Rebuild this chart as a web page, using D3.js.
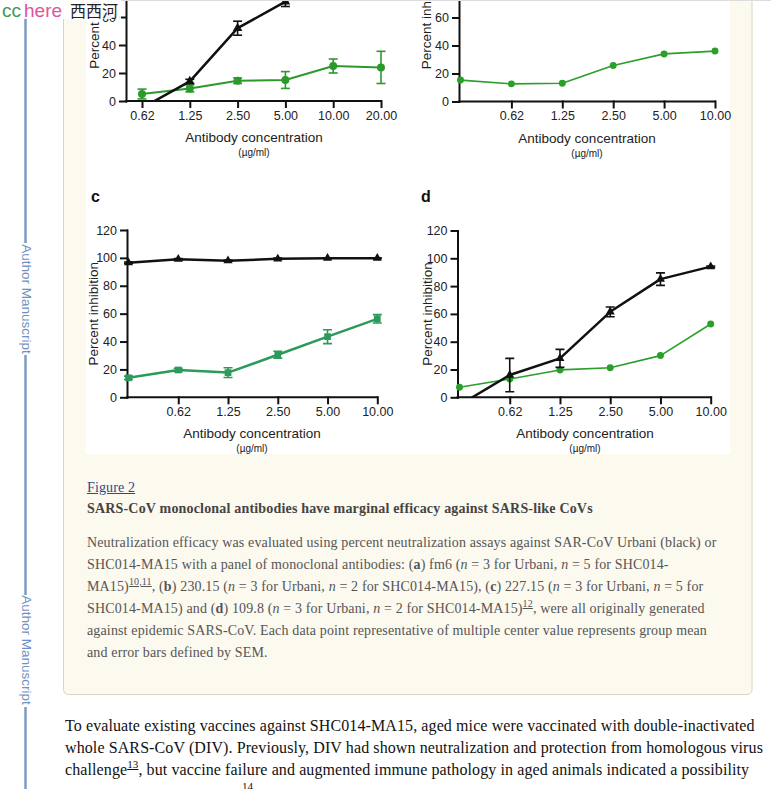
<!DOCTYPE html>
<html><head><meta charset="utf-8">
<script src="https://cdn.jsdelivr.net/npm/d3@7"></script>
<style>
html,body{margin:0;padding:0;background:#fff;overflow:hidden;width:771px;height:789px}
#wrap{position:relative;width:771px;height:789px}
svg{position:absolute;left:0;top:0;display:block}
.txt{position:absolute;white-space:nowrap;font-family:"Liberation Serif","Times New Roman",serif}
.cap{font-size:14px;line-height:22px;color:#555;letter-spacing:0.14px}
.body{font-size:16px;line-height:22px;color:#111;letter-spacing:0.1px}
.sup{font-size:10px;position:relative;top:-6px;line-height:0;text-decoration:underline}
.body .sup{font-size:11px;top:-7px}
</style></head><body>
<div id="wrap">
<svg id="chart" width="771" height="789"></svg>
<div class="txt cap" style="left:87px;top:477px;color:#2b4c8c;text-decoration:underline">Figure 2</div>
<div class="txt cap" style="left:87px;top:498px;color:#444;font-weight:bold;letter-spacing:0.18px">SARS-CoV monoclonal antibodies have marginal efficacy against SARS-like CoVs</div>
<div class="txt cap" style="left:87px;top:532px">
Neutralization efficacy was evaluated using percent neutralization assays against SAR-CoV Urbani (black) or<br>
SHC014-MA15 with a panel of monoclonal antibodies: (<b>a</b>) fm6 (<i>n</i> = 3 for Urbani, <i>n</i> = 5 for SHC014-<br>
MA15)<span class="sup">10,11</span>, (<b>b</b>) 230.15 (<i>n</i> = 3 for Urbani, <i>n</i> = 2 for SHC014-MA15), (<b>c</b>) 227.15 (<i>n</i> = 3 for Urbani, <i>n</i> = 5 for<br>
SHC014-MA15) and (<b>d</b>) 109.8 (<i>n</i> = 3 for Urbani, <i>n</i> = 2 for SHC014-MA15)<span class="sup">12</span>, were all originally generated<br>
against epidemic SARS-CoV. Each data point representative of multiple center value represents group mean<br>
and error bars defined by SEM.
</div>
<div class="txt body" style="left:65px;top:715px">
To evaluate existing vaccines against SHC014-MA15, aged mice were vaccinated with double-inactivated<br>
whole SARS-CoV (DIV). Previously, DIV had shown neutralization and protection from homologous virus<br>
challenge<span class="sup">13</span>, but vaccine failure and augmented immune pathology in aged animals indicated a possibility<br>
<span style="display:inline-block;width:177px"></span><span class="sup">14</span>
</div>
</div>
<script>
// ---------------- data ----------------
const concA = ["0.62","1.25","2.50","5.00","10.00","20.00"];
const concBCD = ["0.31","0.62","1.25","2.50","5.00","10.00"];
const tickLabelsA = ["0.62","1.25","2.50","5.00","10.00","20.00"];
const tickLabelsBCD = ["","0.62","1.25","2.50","5.00","10.00"];
const yTicks = [0,20,40,60,80,100,120];

const urbaniA = [-5, 14, 52, 71, 92, 97];
const urbaniAErr = [0, 1.5, 5, 3.5, 3, 2];
const shcA = [5, 9, 14.5, 15, 25, 24];
const shcAErr = [3.5, 2.5, 2, 6, 5, 11.5];

const urbaniB = [96, 98, 99, 100, 100, 100];
const shcB = [15.3, 12.6, 13, 25.7, 34, 36];

const urbaniC = [96.5, 99, 98, 99.3, 99.8, 99.8];
const urbaniCErr = [0.5, 0.5, 0.5, 0.5, 0.3, 0.3];
const shcC = [14, 19.6, 17.7, 30.5, 43.5, 56.3];
const shcCErr = [1.2, 1.2, 3.5, 2.5, 5, 3];

const urbaniD = [-5.5, 16, 28, 61.5, 85, 94];
const urbaniDErr = [0, 12, 6.5, 3.5, 4.5, 0.5];
const shcD = [7.2, 13.2, 19.7, 21.3, 30, 52.7];

// ---------------- page chrome ----------------
const svg = d3.select('#chart');
const defs = svg.append('defs');
const SANS = '"Liberation Sans", Arial, Helvetica, sans-serif';

// left blue rule with labels
const blue = '#7d9cc4';
[[0,243],[355,595],[707,789]].forEach(s=>{
  svg.append('line').attr('x1',25.5).attr('x2',25.5).attr('y1',s[0]).attr('y2',s[1])
    .attr('stroke',blue).attr('stroke-width',2.5);
});
[299,650].forEach(cy=>{
  svg.append('text').attr('transform',`translate(27,${cy}) rotate(90)`)
    .attr('text-anchor','middle').attr('dy','0.35em')
    .attr('font-family',SANS).attr('font-size',13.5).attr('fill','#6f91c2')
    .text('Author Manuscript');
});

// cream figure panel
svg.append('rect').attr('x',63.5).attr('y',-10).attr('width',688.5).attr('height',704.5)
  .attr('rx',5).attr('fill','#fcf9ef').attr('stroke','#ddd3c2').attr('stroke-width',1);
// white figure image
svg.append('rect').attr('x',86).attr('y',-10).attr('width',644).attr('height',464).attr('fill','#fff');

// ---------------- panels ----------------
function drawPanel(p){
  const g = svg.append('g');
  const x = d3.scalePoint().domain(p.cats).range([p.xFirst, p.xLast]);
  const y = d3.scaleLinear().domain([0,120]).range([p.y0, p.y120]);

  defs.append('clipPath').attr('id','clip-'+p.id).append('rect')
    .attr('x',p.axisX-12).attr('y',p.y120-30)
    .attr('width',p.xLast-p.axisX+30).attr('height',p.y0-p.y120+30);

  // axes
  const gy = g.append('g').attr('transform',`translate(${p.axisX},0)`)
    .call(d3.axisLeft(y).tickValues(yTicks).tickSize(6).tickSizeOuter(0).tickPadding(4));
  const gx = g.append('g').attr('transform',`translate(0,${p.y0})`)
    .call(d3.axisBottom(x).tickSize(6).tickSizeOuter(0).tickPadding(4)
      .tickFormat((d,i)=>p.tickLabels[i]));
  gx.select('.domain').attr('d',`M${p.axisX},0H${p.xLast}`);
  gx.selectAll('.tick').filter((d,i)=>p.tickLabels[i]==='').select('line').remove();
  [gx,gy].forEach(a=>{
    a.selectAll('.domain,.tick line').attr('stroke','#111').attr('stroke-width',2)
      .attr('stroke-linecap','square');
    a.selectAll('text').attr('font-family',SANS).attr('font-size',12.5).attr('fill','#222');
  });

  // series
  p.series.forEach(s=>{
    const pts = p.cats.map((c,i)=>({c, v:s.values[i], e: s.err ? s.err[i] : 0}));
    const lg = g.append('g').attr('clip-path',`url(#clip-${p.id})`);
    lg.append('path').datum(pts).attr('fill','none').attr('stroke',s.color)
      .attr('stroke-width',s.width).attr('stroke-linejoin','round')
      .attr('d',d3.line().x(d=>x(d.c)).y(d=>y(d.v)));
    const vis = pts.filter(d=>d.v>=0);
    if(s.err){
      const eb = lg.selectAll(null).data(vis.filter(d=>d.e>0)).enter().append('g')
        .attr('stroke',s.color).attr('stroke-width',1.6);
      eb.append('line').attr('x1',d=>x(d.c)).attr('x2',d=>x(d.c))
        .attr('y1',d=>y(d.v-d.e)).attr('y2',d=>y(d.v+d.e));
      [-1,1].forEach(sg=>{
        eb.append('line').attr('x1',d=>x(d.c)-4.5).attr('x2',d=>x(d.c)+4.5)
          .attr('y1',d=>y(d.v+sg*d.e)).attr('y2',d=>y(d.v+sg*d.e));
      });
    }
    const sym = d3.symbol().type(s.marker).size(s.msize);
    g.selectAll(null).data(vis).enter().append('path')
      .attr('transform',d=>`translate(${x(d.c)},${y(d.v)})`)
      .attr('d',sym).attr('fill',s.color);
  });

  // axis titles
  g.append('text').attr('transform',`translate(${p.ylabX},${(p.y0+p.y120)/2}) rotate(-90)`)
    .attr('text-anchor','middle').attr('dy','0.35em')
    .attr('font-family',SANS).attr('font-size',13.5).attr('fill','#222')
    .text('Percent inhibition');
  g.append('text').attr('x',p.xlabX).attr('y',p.y0+41).attr('text-anchor','middle')
    .attr('font-family',SANS).attr('font-size',13.5).attr('fill','#222')
    .text('Antibody concentration');
  g.append('text').attr('x',p.xlabX).attr('y',p.y0+55).attr('text-anchor','middle')
    .attr('font-family',SANS).attr('font-size',10).attr('fill','#222')
    .text('(\u00b5g/ml)');
  if(p.letter){
    g.append('text').attr('x',p.letterX).attr('y',p.y0-195)
      .attr('font-family',SANS).attr('font-size',16).attr('font-weight','bold').attr('fill','#111')
      .text(p.letter);
  }
}

const BLACK = '#111';
drawPanel({id:'a', cats:concA, tickLabels:tickLabelsA, axisX:126, xFirst:142, xLast:381,
  y0:101, y120:-67, ylabX:94, xlabX:254,
  series:[
    {values:shcA, err:shcAErr, color:'#2b9a2b', width:2, marker:d3.symbolCircle, msize:50},
    {values:urbaniA, err:urbaniAErr, color:BLACK, width:2.5, marker:d3.symbolTriangle, msize:40}
  ]});
drawPanel({id:'b', cats:concBCD, tickLabels:tickLabelsBCD, axisX:459, xFirst:460.5, xLast:715,
  y0:101.5, y120:-66.5, ylabX:426, xlabX:587,
  series:[
    {values:shcB, color:'#2aa02a', width:1.6, marker:d3.symbolCircle, msize:38},
    {values:urbaniB, color:BLACK, width:2.5, marker:d3.symbolTriangle, msize:35}
  ]});
drawPanel({id:'c', cats:concBCD, tickLabels:tickLabelsBCD, axisX:127, xFirst:128.5, xLast:377.3,
  y0:397.3, y120:230, ylabX:93, xlabX:252, letter:'c', letterX:91,
  series:[
    {values:shcC, err:shcCErr, color:'#2b9a5a', width:2.5, marker:d3.symbolSquare, msize:45},
    {values:urbaniC, err:urbaniCErr, color:BLACK, width:2.5, marker:d3.symbolTriangle, msize:35}
  ]});
drawPanel({id:'d', cats:concBCD, tickLabels:tickLabelsBCD, axisX:457.5, xFirst:459.5, xLast:710.7,
  y0:397.3, y120:230.5, ylabX:427.5, xlabX:585, letter:'d', letterX:421,
  series:[
    {values:shcD, color:'#2aa02a', width:1.6, marker:d3.symbolCircle, msize:38},
    {values:urbaniD, err:urbaniDErr, color:BLACK, width:2.5, marker:d3.symbolTriangle, msize:35}
  ]});

// ---------------- top overlay ----------------
svg.append('line').attr('x1',120).attr('x2',771).attr('y1',0.5).attr('y2',0.5)
  .attr('stroke','#dddddd').attr('stroke-width',1);
svg.append('rect').attr('x',0).attr('y',0).attr('width',121).attr('height',19)
  .attr('fill','#fff').attr('opacity',0.9);
const ov = svg.append('text').attr('y',17).attr('font-family',SANS).attr('font-size',19);
ov.append('tspan').attr('x',2).attr('fill','#3c9a52').text('cc');
ov.append('tspan').attr('x',24).attr('fill','#e0559c').text('here');
ov.append('tspan').attr('x',70).attr('fill','#222').attr('font-size',16)
  .attr('font-family','"Noto Sans CJK SC", sans-serif').text('西西河');
</script>
</body></html>
